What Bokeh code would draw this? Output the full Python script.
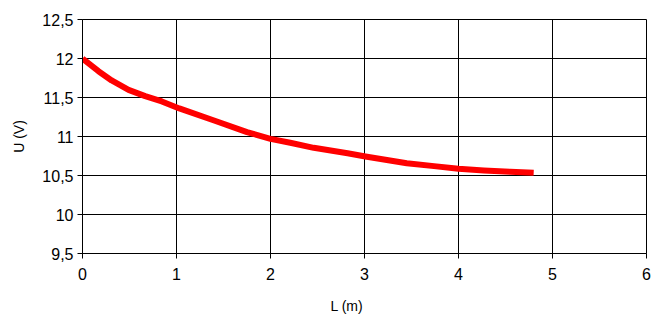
from bokeh.plotting import figure
from bokeh.models import FixedTicker, Range1d, Title
from bokeh.embed import file_html
from bokeh.resources import INLINE

# Data
L_m = [0.0, 0.17, 0.31, 0.49, 0.667, 0.844, 1.03, 1.4, 1.75, 2.0, 2.21, 2.46, 2.82, 3.01, 3.45, 3.74, 4.0, 4.27, 4.55, 4.8]
U_V = [12.0, 11.837, 11.718, 11.598, 11.517, 11.449, 11.36, 11.205, 11.056, 10.97, 10.92, 10.855, 10.786, 10.744, 10.658, 10.62, 10.586, 10.564, 10.547, 10.535]

x_ticks = [0, 1, 2, 3, 4, 5, 6]
x_tick_labels = ["0", "1", "2", "3", "4", "5", "6"]
y_ticks = [9.5, 10, 10.5, 11, 11.5, 12, 12.5]
y_tick_labels = ["9,5", "10", "10,5", "11", "11,5", "12", "12,5"]

x_label = "L (m)"
y_label = "U (V)"

FONT = "Liberation Sans"

p = figure(width=657, height=322, output_backend="svg", toolbar_location=None,
           x_range=Range1d(0, 6), y_range=Range1d(9.5, 12.5))
p.min_border_left = 82
p.min_border_right = 11
p.min_border_top = 19
p.min_border_bottom = 69
p.background_fill_color = "white"
p.border_fill_color = "white"
p.outline_line_color = "black"
p.outline_line_width = 1

p.line(L_m, U_V, line_color="#ff0000", line_width=6, line_join="round", line_cap="butt")

p.xaxis.ticker = FixedTicker(ticks=x_ticks)
p.yaxis.ticker = FixedTicker(ticks=y_ticks)
p.xaxis.major_label_overrides = {t: s for t, s in zip(x_ticks, x_tick_labels)}
p.yaxis.major_label_overrides = {t: s for t, s in zip(y_ticks, y_tick_labels)}

for ax in (p.xaxis, p.yaxis):
    ax.axis_line_color = "black"
    ax.major_tick_line_color = "black"
    ax.major_tick_in = 0
    ax.major_tick_out = 5
    ax.minor_tick_line_color = None
    ax.major_label_text_font = FONT
    ax.major_label_text_font_size = "16px"
    ax.major_label_text_color = "black"
    ax.axis_label_text_font = FONT
    ax.axis_label_text_font_style = "normal"
    ax.axis_label_text_font_size = "14px"
    ax.axis_label_text_color = "black"

p.yaxis.axis_label = y_label
p.xaxis.major_label_standoff = 9
p.yaxis.major_label_standoff = 4
p.yaxis.axis_label_standoff = 12

# x-axis label, placed slightly left of centre as in the reference
xt = Title(text=x_label, align="left", offset=248, text_font=FONT,
           text_font_size="14px", text_font_style="normal", text_color="black",
           standoff=0, padding=dict(left=0, right=0, top=13, bottom=0))
p.add_layout(xt, "below")

p.xgrid.ticker = FixedTicker(ticks=x_ticks)
p.ygrid.ticker = FixedTicker(ticks=y_ticks)
p.grid.grid_line_color = "black"
p.grid.grid_line_width = 1
p.grid.grid_line_alpha = 1.0

open("out.html", "w").write(file_html(p, INLINE))
